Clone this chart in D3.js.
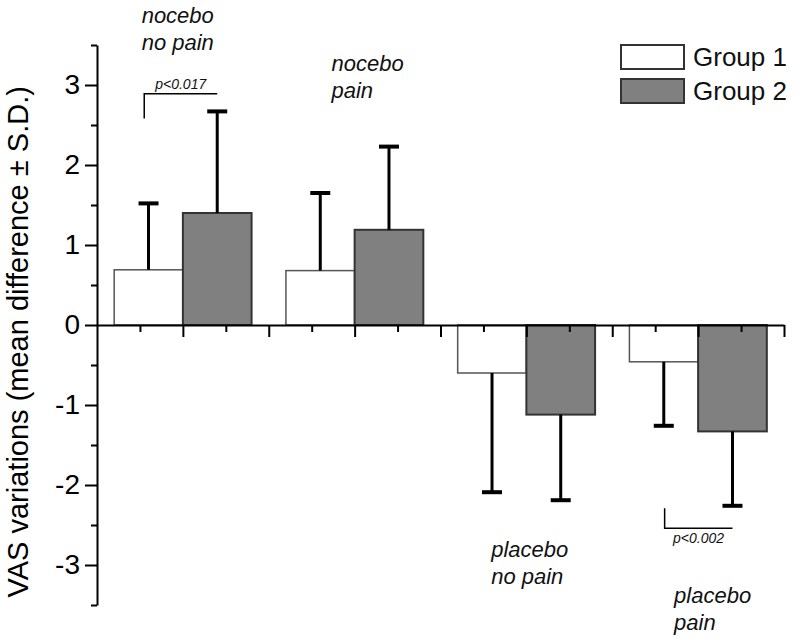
<!DOCTYPE html>
<html lang="en">
  <head>
    <meta charset="utf-8">
    <title>VAS variations</title>
    <style>
      body { margin: 0; background: #fff; }
      svg text { font-family: "Liberation Sans", Arial, sans-serif; }
    </style>
  </head>
  <body>
    <svg width="800" height="639"></svg>
    <script src="https://cdn.jsdelivr.net/npm/d3@7/dist/d3.min.js"></script>
    <script>
      // data
      const categories = [['nocebo', 'no pain'], ['nocebo', 'pain'], ['placebo', 'no pain'], ['placebo', 'pain']];
      const groups = ['Group 1', 'Group 2'];
      const group1Mean = [0.69, 0.68, -0.60, -0.46];
      const group1SD = [0.83, 0.97, 1.49, 0.80];
      const group2Mean = [1.40, 1.19, -1.12, -1.33];
      const group2SD = [1.27, 1.04, 1.07, 0.93];
      const yTicks = [-3, -2, -1, 0, 1, 2, 3];
      const pLabels = ['p<0.017', 'p<0.002'];

      const svg = d3.select('svg');
      const font = '"Liberation Sans", Arial, sans-serif';

      // group centre sits on every second major tick
      const x = d3.scaleLinear().domain([0, 8]).range([97, 784]);
      const y = d3.scaleLinear().domain([-3.5, 3.5]).range([605, 45]);
      const centre = i => 1 + 2 * i;
      const barW = 0.8;

      const rows = [];
      categories.forEach(function(c, i) {
        rows.push({ cat: i, g: 0, x0: centre(i) - barW, mean: group1Mean[i], sd: group1SD[i] });
        rows.push({ cat: i, g: 1, x0: centre(i), mean: group2Mean[i], sd: group2SD[i] });
      });

      const fills = ['#ffffff', '#808080'];
      const strokes = ['#555555', '#333333'];

      // bars
      svg.append('g').selectAll('rect')
        .data(rows).enter()
        .append('rect')
        .attr('x', d => x(d.x0))
        .attr('width', d => x(d.x0 + barW) - x(d.x0))
        .attr('y', d => y(Math.max(0, d.mean)))
        .attr('height', d => Math.abs(y(d.mean) - y(0)))
        .attr('fill', d => fills[d.g])
        .attr('stroke', d => strokes[d.g])
        .attr('stroke-width', d => d.g === 0 ? 1.5 : 2);

      // one-sided error bars
      const err = svg.append('g').selectAll('g')
        .data(rows).enter()
        .append('g');
      err.append('line')
        .attr('x1', d => x(d.x0 + barW / 2))
        .attr('x2', d => x(d.x0 + barW / 2))
        .attr('y1', d => y(d.mean))
        .attr('y2', d => y(d.mean + Math.sign(d.mean) * d.sd))
        .attr('stroke', '#000')
        .attr('stroke-width', 3);
      err.append('line')
        .attr('x1', d => x(d.x0 + barW / 2) - 10)
        .attr('x2', d => x(d.x0 + barW / 2) + 10)
        .attr('y1', d => y(d.mean + Math.sign(d.mean) * d.sd))
        .attr('y2', d => y(d.mean + Math.sign(d.mean) * d.sd))
        .attr('stroke', '#000')
        .attr('stroke-width', 4);

      // x axis (no labels, major + minor ticks pointing down)
      svg.append('g')
        .attr('transform', 'translate(0,' + y(0) + ')')
        .call(d3.axisBottom(x).tickValues(d3.range(1, 9)).tickSize(12).tickSizeOuter(0).tickFormat(''));
      svg.append('g')
        .attr('transform', 'translate(0,' + y(0) + ')')
        .call(d3.axisBottom(x).tickValues(d3.range(0.5, 8, 1)).tickSize(7).tickSizeOuter(0).tickFormat(''))
        .select('.domain').remove();

      // y axis
      const yAxis = svg.append('g')
        .attr('transform', 'translate(' + x(0) + ',0)')
        .call(d3.axisLeft(y).tickValues(yTicks).tickSize(12).tickSizeOuter(0).tickPadding(5).tickFormat(d => String(d)));
      yAxis.selectAll('text')
        .attr('font-family', font)
        .attr('font-size', 28)
        .attr('fill', '#000');
      svg.append('g')
        .attr('transform', 'translate(' + x(0) + ',0)')
        .call(d3.axisLeft(y).tickValues(d3.range(-3.5, 3.6, 1)).tickSize(6).tickSizeOuter(0).tickFormat(''))
        .select('.domain').remove();

      svg.selectAll('.domain, .tick line')
        .attr('stroke', '#000')
        .attr('stroke-width', 2);

      svg.append('text')
        .attr('transform', 'translate(28,' + y(-0.21) + ') rotate(-90)')
        .attr('text-anchor', 'middle')
        .attr('font-size', 29)
        .attr('fill', '#000')
        .text('VAS variations (mean difference \u00b1 S.D.)');

      // category labels (italic, two lines, left aligned)
      const labelPos = [[0.52, 3.78], [2.73, 3.17], [4.59, -2.90], [6.72, -3.48]];
      categories.forEach(function(c, i) {
        const t = svg.append('text')
          .attr('x', x(labelPos[i][0]))
          .attr('y', y(labelPos[i][1]))
          .attr('font-size', 22)
          .attr('font-style', 'italic')
          .attr('fill', '#111');
        c.forEach(function(line, j) {
          t.append('tspan')
            .attr('x', x(labelPos[i][0]))
            .attr('dy', j === 0 ? 0 : 27)
            .text(line);
        });
      });

      // significance brackets
      const brackets = [
        { x1: 0.55, x2: 1.40, yBar: 2.89, yEnd: 2.58, yText: 2.95 },
        { x1: 6.61, x2: 7.40, yBar: -2.54, yEnd: -2.29, yText: -2.72 }
      ];
      brackets.forEach(function(b, i) {
        svg.append('path')
          .attr('d', 'M' + x(b.x1) + ',' + y(b.yEnd) + 'V' + y(b.yBar) + 'H' + x(b.x2))
          .attr('fill', 'none')
          .attr('stroke', '#000')
          .attr('stroke-width', 1.5);
        svg.append('text')
          .attr('x', (x(b.x1) + x(b.x2)) / 2)
          .attr('y', y(b.yText))
          .attr('text-anchor', 'middle')
          .attr('font-size', 14)
          .attr('font-style', 'italic')
          .attr('fill', '#111')
          .text(pLabels[i]);
      });

      // legend
      const legend = svg.append('g').attr('transform', 'translate(621,45)');
      groups.forEach(function(g, i) {
        legend.append('rect')
          .attr('x', 0)
          .attr('y', i * 34)
          .attr('width', 63)
          .attr('height', 24)
          .attr('fill', fills[i])
          .attr('stroke', '#333')
          .attr('stroke-width', 2);
        legend.append('text')
          .attr('x', 72)
          .attr('y', i * 34 + 21)
          .attr('font-size', 26)
          .attr('fill', '#111')
          .text(g);
      });
    </script>
  </body>
</html>
